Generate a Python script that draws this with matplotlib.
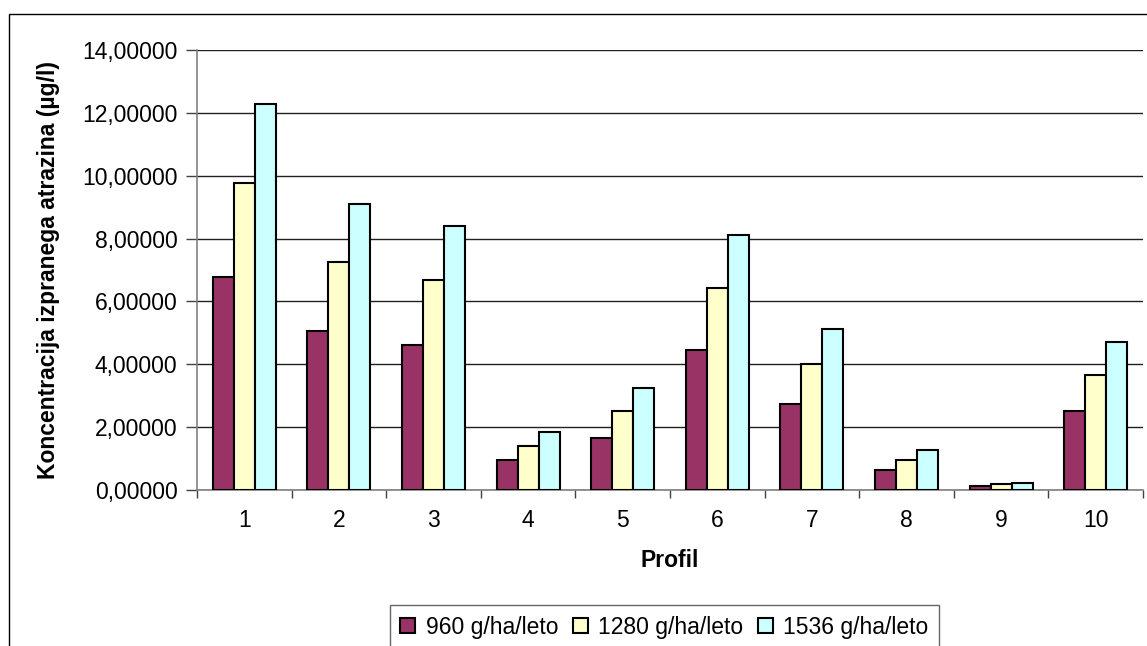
import matplotlib
matplotlib.use("Agg")
import matplotlib.pyplot as plt
from matplotlib.patches import Rectangle
from matplotlib.ticker import FuncFormatter, FixedLocator
import numpy as np

plt.rcParams['font.family'] = ['Liberation Sans', 'DejaVu Sans']

profiles = [1, 2, 3, 4, 5, 6, 7, 8, 9, 10]
rate_960 = [6.77, 5.05, 4.61, 0.96, 1.67, 4.45, 2.73, 0.63, 0.12, 2.51]
rate_1280 = [9.77, 7.27, 6.67, 1.39, 2.51, 6.44, 4.00, 0.96, 0.18, 3.67]
rate_1536 = [12.27, 9.11, 8.39, 1.84, 3.23, 8.11, 5.12, 1.28, 0.23, 4.72]
series_labels = ['960 g/ha/leto', '1280 g/ha/leto', '1536 g/ha/leto']
series_colors = ['#993366', '#FFFFCC', '#CCFFFF']

W, H = 1147, 646
FS = 16.5
fig = plt.figure(figsize=(W / 100, H / 100), dpi=100)

# chart-area border (open at right and bottom)
fig.add_artist(Rectangle((9 / W, -0.05), 1.2, (H - 14) / H + 0.05,
                         transform=fig.transFigure, fill=False,
                         edgecolor='black', linewidth=1.0))

ax = fig.add_axes([197 / W, 156 / H, 946 / W, 440 / H])

x = np.arange(len(profiles)) + 1
w = 1 / 4.5
for i, (vals, lab, col) in enumerate(zip([rate_960, rate_1280, rate_1536],
                                         series_labels, series_colors)):
    ax.bar(x + (i - 1) * w, vals, width=w, color=col, edgecolor='black',
           linewidth=1.5, label=lab, zorder=3)

ax.set_xlim(0.5, 10.5)
ax.set_ylim(0, 14)
ax.yaxis.set_major_locator(FixedLocator(np.arange(0, 15, 2)))
ax.yaxis.set_major_formatter(FuncFormatter(lambda v, p: f"{v:.5f}".replace('.', ',')))
ax.set_xticks(x)
ax.set_xticklabels([str(p) for p in profiles])
ax.xaxis.set_minor_locator(FixedLocator(np.arange(0.5, 11, 1)))
ax.tick_params(axis='x', which='major', length=0, pad=14, labelsize=FS)
ax.tick_params(axis='x', which='minor', length=6, color='#404040', width=1)
ax.tick_params(axis='y', length=8, color='#404040', width=1, labelsize=FS, pad=6)

ax.grid(axis='y', color='#202020', linewidth=1.0, zorder=0)
for s in ['top', 'right']:
    ax.spines[s].set_visible(False)
for s in ['left', 'bottom']:
    ax.spines[s].set_color('#808080')
    ax.spines[s].set_linewidth(1.2)

ax.set_xlabel('Profil', fontsize=FS, fontweight='bold', labelpad=12)
ax.set_ylabel('Koncentracija izpranega atrazina (µg/l)', fontsize=FS,
              fontweight='bold', labelpad=16)

leg = fig.legend(loc='lower left', bbox_to_anchor=(390 / W, -3 / H), ncol=3,
                 fontsize=FS, frameon=True, fancybox=False, handlelength=0.65,
                 handleheight=0.65, handletextpad=0.45, columnspacing=0.65,
                 borderpad=0.45, borderaxespad=0)
leg.get_frame().set_edgecolor('#404040')
leg.get_frame().set_linewidth(1.0)

fig.savefig('out.png', dpi=100)
